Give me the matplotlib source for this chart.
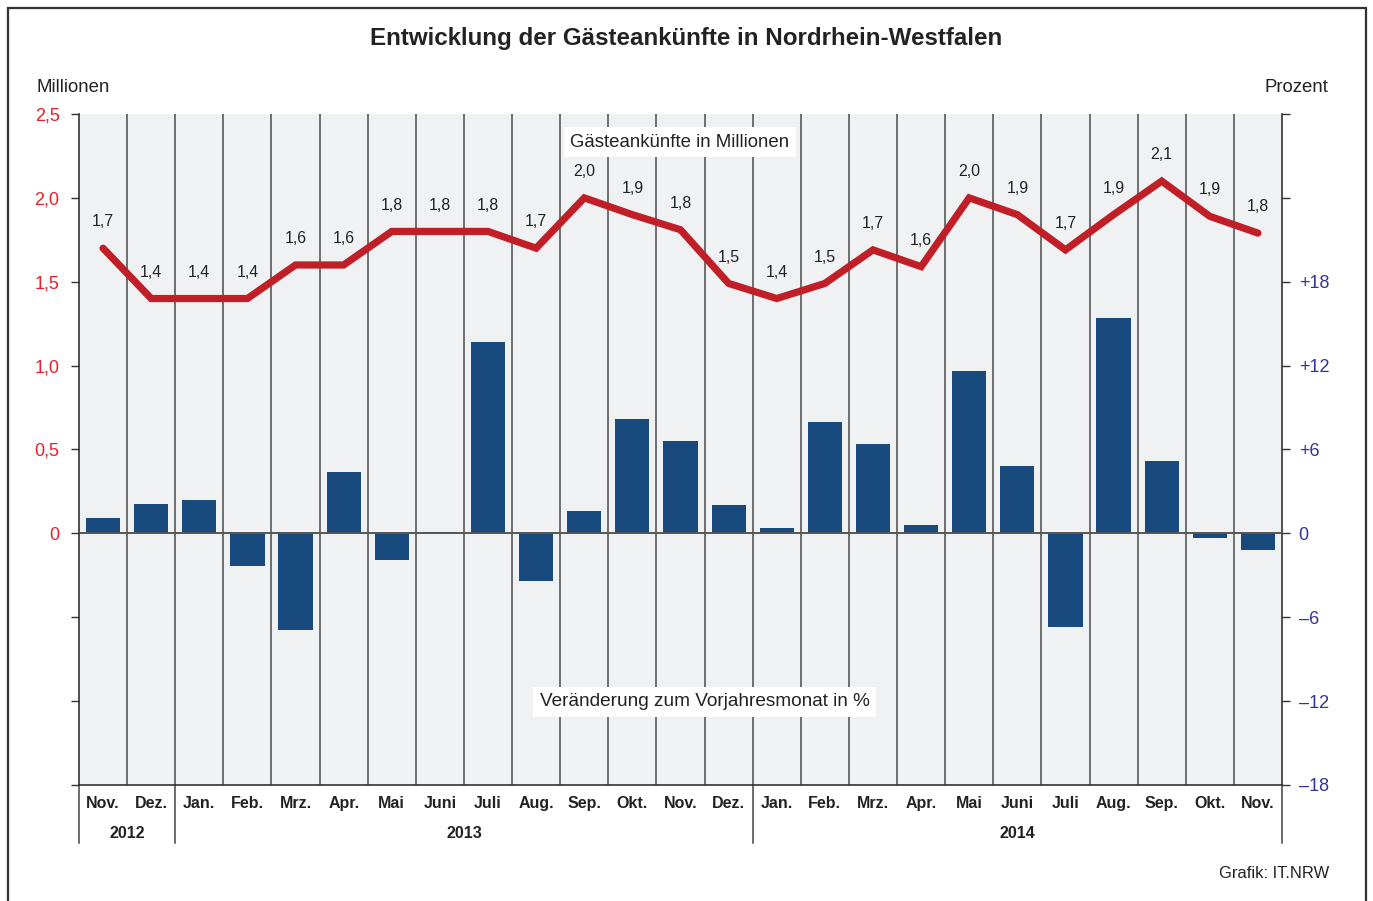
import matplotlib
matplotlib.use("Agg")
import matplotlib.pyplot as plt
import numpy as np
from matplotlib.patches import Rectangle
from matplotlib.lines import Line2D
import matplotlib.transforms as mtransforms

plt.rcParams['font.family'] = ['Liberation Sans', 'DejaVu Sans']

# ---------------- data ----------------
months = ["Nov.", "Dez.", "Jan.", "Feb.", "Mrz.", "Apr.", "Mai", "Juni", "Juli",
          "Aug.", "Sep.", "Okt.", "Nov.", "Dez.", "Jan.", "Feb.", "Mrz.", "Apr.",
          "Mai", "Juni", "Juli", "Aug.", "Sep.", "Okt.", "Nov."]
arrivals_mio = [1.70, 1.40, 1.40, 1.40, 1.60, 1.60, 1.80, 1.80, 1.80, 1.70, 2.00,
                1.90, 1.81, 1.49, 1.40, 1.49, 1.69, 1.59, 2.00, 1.90, 1.69, 1.90,
                2.10, 1.89, 1.79]
arrival_labels = ["1,7", "1,4", "1,4", "1,4", "1,6", "1,6", "1,8", "1,8", "1,8",
                  "1,7", "2,0", "1,9", "1,8", "1,5", "1,4", "1,5", "1,7", "1,6",
                  "2,0", "1,9", "1,7", "1,9", "2,1", "1,9", "1,8"]
change_pct = [1.1, 2.1, 2.4, -2.3, -6.9, 4.4, -1.9, 0.1, 13.7, -3.4, 1.6, 8.2,
              6.6, 2.0, 0.4, 8.0, 6.4, 0.6, 11.6, 4.8, -6.7, 15.4, 5.2, -0.3, -1.2]
years = ["2012", "2013", "2014"]
year_spans = [(0, 1), (2, 13), (14, 24)]   # first/last month index of each year

left_ticks = [-1.5, -1.0, -0.5, 0, 0.5, 1.0, 1.5, 2.0, 2.5]
left_ticklabels = ["", "", "", "0", "0,5", "1,0", "1,5", "2,0", "2,5"]
right_ticks = [-18, -12, -6, 0, 6, 12, 18, 24, 30]
right_ticklabels = ["\u201318", "\u201312", "\u20136", "0", "+6", "+12", "+18", "", ""]

# ---------------- style ----------------
W, H = 1373, 901
fig = plt.figure(figsize=(W / 100, H / 100), dpi=100)
BG = "#f0f1f3"
BAR = "#184a7e"
RED = "#c01f28"
TXT = "#222222"
GRID = "#4a4a4a"

x0, x1, y0, y1 = 79, 1282, 114, 785
ax = fig.add_axes([x0 / W, 1 - y1 / H, (x1 - x0) / W, (y1 - y0) / H])
ax.set_facecolor(BG)
x = np.arange(len(months))

# bars (percent)
ax.bar(x, change_pct, width=0.71, color=BAR, zorder=2)
ax.set_xlim(-0.5, len(months) - 0.5)
ax.set_ylim(-18, 30)
ax.axhline(0, color="#555555", lw=1.4, zorder=3)

ax.set_xticks(x)
ax.set_xticklabels(months, fontweight="bold", fontsize=11.5, color=TXT)
ax.tick_params(axis="x", which="major", length=0, pad=8)
ax.set_xticks(np.arange(0.5, len(months) - 1, 1), minor=True)
ax.tick_params(axis="x", which="minor", length=0)
ax.grid(which="minor", axis="x", color=GRID, lw=1.1, zorder=1)
ax.set_axisbelow(True)

ax.spines["top"].set_visible(False)
for s in ["left", "right", "bottom"]:
    ax.spines[s].set_color("#333333")
    ax.spines[s].set_linewidth(1.2)

# line (millions) on twin axis, labels on left
ax2 = ax.twinx()
ax2.set_ylim(-1.5, 2.5)
ax2.plot(x, arrivals_mio, color=RED, lw=5.2, solid_capstyle="round",
         solid_joinstyle="miter", zorder=5)
ax2.yaxis.tick_left()
ax2.set_yticks(left_ticks)
ax2.set_yticklabels(left_ticklabels)
ax2.tick_params(axis="y", direction="out", length=6, width=1, color="#333333",
                labelcolor="#e8202a", labelsize=13, pad=8)
for s in ["top", "right", "left", "bottom"]:
    ax2.spines[s].set_visible(False)

# percent axis on the right (after twinx, which resets tick side)
ax.yaxis.tick_right()
ax.set_yticks(right_ticks)
ax.set_yticklabels(right_ticklabels)
ax.tick_params(axis="y", which="major", direction="out", length=6, width=1,
               color="#333333", labelcolor="#333399", labelsize=13, pad=6,
               left=False, labelleft=False, right=True, labelright=True)

for xi, v, lab in zip(x, arrivals_mio, arrival_labels):
    ax2.annotate(lab, (xi, v), xytext=(0, 19), textcoords="offset points",
                 ha="center", va="center", fontsize=11.5, color=TXT, zorder=6)

# annotation boxes
ax.text(0.4996, 0.958, "Gästeankünfte in Millionen", transform=ax.transAxes,
        ha="center", va="center", fontsize=13.4, color=TXT, zorder=7,
        bbox=dict(facecolor="white", edgecolor="none", pad=4.5))
ax.text(0.520, 0.124, "Veränderung zum Vorjahresmonat in %", transform=ax.transAxes,
        ha="center", va="center", fontsize=13.7, color=TXT, zorder=7,
        bbox=dict(facecolor="white", edgecolor="none", pad=4.5))

# year labels and separators below the axis
trans = mtransforms.blended_transform_factory(ax.transData, ax.transAxes)
sep_depth = (843 - 785) / (y1 - y0)
for yr, (a, b) in zip(years, year_spans):
    ax.text((a + b) / 2, -(833 - 785) / (y1 - y0), yr, transform=trans,
            ha="center", va="center", fontsize=11.5, fontweight="bold", color=TXT)
sep_positions = [-0.5] + [b + 0.5 for (a, b) in year_spans]
for sx in sep_positions:
    ax.add_line(Line2D([sx, sx], [0, -sep_depth], transform=trans, color="#444444",
                       lw=1.1, clip_on=False))

# figure texts
fig.text(0.4997, 1 - 38 / H, "Entwicklung der Gästeankünfte in Nordrhein-Westfalen",
         ha="center", va="center", fontsize=17.4, fontweight="bold", color=TXT)
fig.text(36 / W, 1 - 87 / H, "Millionen", ha="left", va="center", fontsize=13.4, color=TXT)
fig.text(1328 / W, 1 - 87 / H, "Prozent", ha="right", va="center", fontsize=13.4, color=TXT)
fig.text(1329 / W, 1 - 873 / H, "Grafik: IT.NRW", ha="right", va="center",
         fontsize=11.9, color=TXT)

# outer frame
fig.patches.append(Rectangle((8 / W, -0.02), (1366 - 8) / W, 1 - 8 / H + 0.02,
                             transform=fig.transFigure, fill=False,
                             edgecolor="#333333", lw=1.6))

fig.savefig("out.png", dpi=100)
